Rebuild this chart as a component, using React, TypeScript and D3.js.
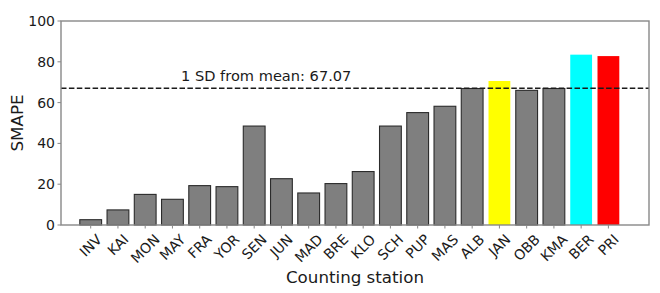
import { useEffect, useRef } from 'react';
import * as d3 from 'd3';

// 카운팅 스테이션별 SMAPE
const stations = [
  'INV', 'KAI', 'MON', 'MAY', 'FRA', 'YOR', 'SEN', 'JUN', 'MAD', 'BRE',
  'KLO', 'SCH', 'PUP', 'MAS', 'ALB', 'JAN', 'OBB', 'KMA', 'BER', 'PRI',
];
const smape = [
  2.6, 7.4, 15.0, 12.6, 19.3, 18.8, 48.5, 22.7, 15.7, 20.3,
  26.2, 48.5, 55.1, 58.2, 66.9, 70.6, 66.0, 66.9, 83.5, 82.8,
];
const highlight: Record<string, string> = { JAN: '#ffff00', BER: '#00ffff', PRI: '#ff0000' };
const yTicks = [0, 20, 40, 60, 80, 100];
const sdLine = 67.07;

const W = 660;
const H = 293;
const FONT = '"DejaVu Sans", sans-serif';

export default function App() {
  const svgRef = useRef<SVGSVGElement>(null);

  useEffect(() => {
    if (!svgRef.current) return;
    const svg = d3.select(svgRef.current);
    svg.selectAll('*').remove();

    const left = 61, right = 649, top = 21, bottom = 225;

    // x: 인덱스 기반 선형 스케일 (matplotlib 여백 흉내)
    const x = d3.scaleLinear().domain([-1.09, stations.length + 0.49]).range([left, right]);
    const y = d3.scaleLinear().domain([0, 100]).range([bottom, top]);
    const bw = (x(1) - x(0)) * 0.8;

    const g = svg.append('g');

    // 막대
    g.selectAll('rect.bar')
      .data(stations)
      .join('rect')
      .attr('class', 'bar')
      .attr('x', (_d, i) => x(i) - bw / 2)
      .attr('y', (_d, i) => y(smape[i]))
      .attr('width', bw)
      .attr('height', (_d, i) => y(0) - y(smape[i]))
      .attr('fill', (d) => highlight[d] ?? '#7f7f7f')
      .attr('stroke', (d) => (highlight[d] ? 'none' : '#2b2b2b'))
      .attr('stroke-width', 1.1);

    // 1 SD 기준선
    g.append('line')
      .attr('x1', left).attr('x2', right)
      .attr('y1', y(sdLine)).attr('y2', y(sdLine))
      .attr('stroke', '#1a1a1a')
      .attr('stroke-width', 1.5)
      .attr('stroke-dasharray', '5.5,2.4');

    g.append('text')
      .attr('x', 181)
      .attr('y', y(sdLine) - 7)
      .attr('font-family', FONT)
      .attr('font-size', '14.6px')
      .attr('fill', '#1a1a1a')
      .text(`1 SD from mean: ${sdLine.toFixed(2)}`);

    // 프레임
    g.append('rect')
      .attr('x', left).attr('y', top)
      .attr('width', right - left).attr('height', bottom - top)
      .attr('fill', 'none')
      .attr('stroke', '#888')
      .attr('stroke-width', 1.4);

    // Y축 눈금
    yTicks.forEach((t) => {
      g.append('line')
        .attr('x1', left - 3.5).attr('x2', left)
        .attr('y1', y(t)).attr('y2', y(t))
        .attr('stroke', '#888').attr('stroke-width', 1);
      g.append('text')
        .attr('x', left - 6)
        .attr('y', y(t))
        .attr('dy', '0.36em')
        .attr('text-anchor', 'end')
        .attr('font-family', FONT)
        .attr('font-size', '14px')
        .attr('fill', '#1a1a1a')
        .text(t);
    });

    // X축 눈금 + 45° 레이블 (가운데 정렬)
    stations.forEach((s, i) => {
      const cx = x(i);
      g.append('line')
        .attr('x1', cx).attr('x2', cx)
        .attr('y1', bottom).attr('y2', bottom + 3.5)
        .attr('stroke', '#888').attr('stroke-width', 1);
      const t = g.append('text')
        .attr('text-anchor', 'middle')
        .attr('dy', '0.35em')
        .attr('font-family', FONT)
        .attr('font-size', '14px')
        .attr('fill', '#1a1a1a')
        .text(s);
      const w = (t.node() as SVGTextElement).getComputedTextLength();
      const h = 11;
      const cy = bottom + 8 + (w + h) / (2 * Math.SQRT2);
      t.attr('transform', `translate(${cx},${cy}) rotate(-45)`);
    });

    // 축 제목
    g.append('text')
      .attr('x', (left + right) / 2)
      .attr('y', 283)
      .attr('text-anchor', 'middle')
      .attr('font-family', FONT)
      .attr('font-size', '16.7px')
      .attr('fill', '#1a1a1a')
      .text('Counting station');

    g.append('text')
      .attr('transform', `translate(23,${(top + bottom) / 2}) rotate(-90)`)
      .attr('text-anchor', 'middle')
      .attr('font-family', FONT)
      .attr('font-size', '16.7px')
      .attr('fill', '#1a1a1a')
      .text('SMAPE');
  }, []);

  return (
    <svg
      ref={svgRef}
      width={W}
      height={H}
      style={{ position: 'absolute', left: 0, top: 0, background: '#fff' }}
    />
  );
}
